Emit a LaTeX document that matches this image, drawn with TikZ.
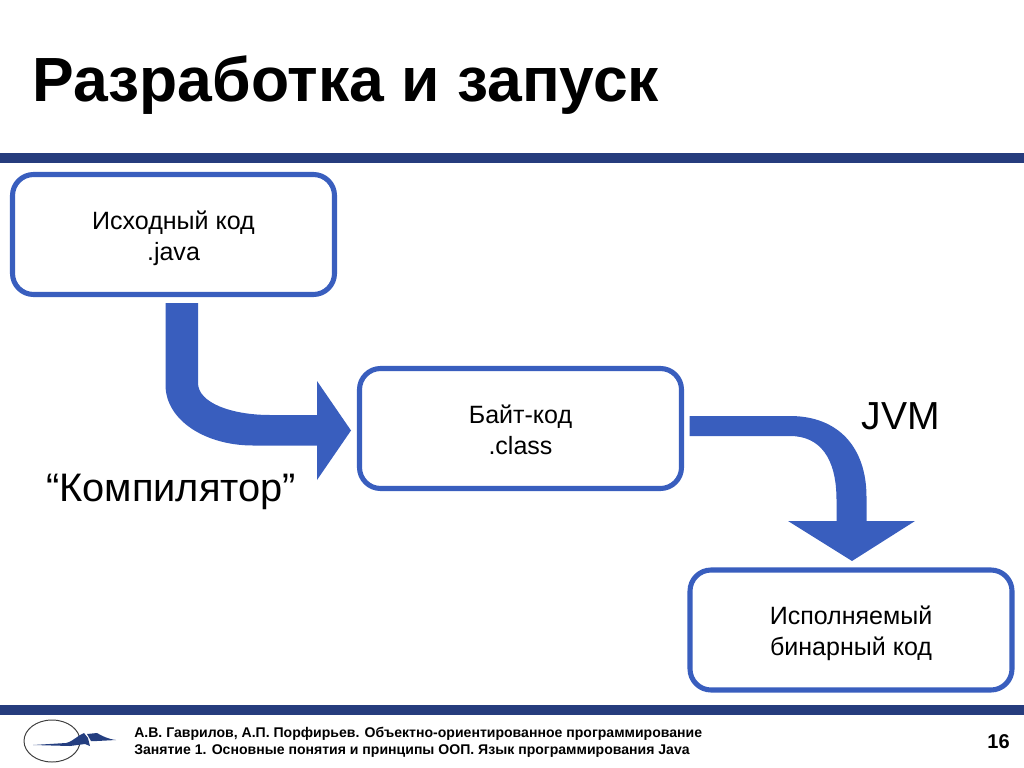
\documentclass[tikz,border=0pt]{standalone}
\usepackage{fontspec}
\setmainfont{Liberation Sans}
\usetikzlibrary{calc}
\definecolor{myblue}{RGB}{57, 94, 190}
\definecolor{mybar}{RGB}{38, 60, 125}
\definecolor{mylogo}{RGB}{36, 62, 128}
\newcommand{\toppad}[1]{\rule{0pt}{#1pt}}
\tikzset{
	codebox/.style = {draw = myblue, line width = 3.6pt, rounded corners = 15pt, fill = white, minimum width = 322*0.025cm, minimum height = 120*0.025cm, inner sep = 0, align = center, font = \fontsize{17.8}{22}\selectfont},
	bigflow/.style = {fill = myblue},
	hbar/.style = {fill = mybar}
}
\begin{document}
\begin{tikzpicture}[x = 0.025cm, y = -0.025cm]
\useasboundingbox (0, 0) rectangle (1024, 768);

\fill[hbar] (0, 153) rectangle (1024, 163);
\fill[hbar] (0, 705) rectangle (1024, 715);

\node[anchor = base west, inner sep = 0, font = \fontsize{44.4}{50}\bfseries\selectfont] (title) at (32, 102) {Разработка и запуск};

\node[codebox] (srcbox) at (173.5, 234.5) {\toppad{18.5}Исходный код \\ .java};
\node[codebox] (bytebox) at (520.5, 428.5) {\toppad{14.5}Байт-код \\ .class};
\node[codebox] (binbox) at (851, 630) {\toppad{17.5}Исполняемый \\ бинарный код};

\coordinate (tailA) at (165.5, 303);
\coordinate (tipA) at (351, 430.5);
\coordinate (tailB) at (689.5, 416);
\coordinate (tipB) at (852, 561);

\fill[bigflow] (tailA) -- (198, 303) -- (198, 383)
.. controls (198, 403) and (232, 415) .. (270, 415)
-- (317, 415) -- (317, 381) -- (tipA) -- (317, 480) -- (317, 445.5) -- (253, 445.5)
.. controls (205, 445.5) and (165.5, 420) .. (165.5, 385) -- cycle;

\fill[bigflow] (tailB) -- (790, 416)
.. controls (838, 416) and (866.5, 447) .. (866.5, 497)
-- (866.5, 521) -- (915, 521) -- (tipB) -- (788, 521) -- (836.5, 521) -- (836.5, 500)
.. controls (836.5, 458) and (820, 436) .. (790, 436) -- (689.5, 436) -- cycle;

\node[font = \fontsize{28.3}{32}\selectfont, inner sep = 0] (compiler) at (171, 491.5) {“Компилятор”};
\node[font = \fontsize{27.8}{32}\selectfont, inner sep = 0] (jvm) at (901, 416) {JVM};

% logo
\draw[black!75, line width = 0.7pt] (52, 741) ellipse (28 and 21);
\fill[mylogo] (33, 745) -- (66, 743) .. controls (74, 741) and (78, 735) .. (84, 733)
-- (88, 738) -- (90, 746) -- (85, 744) -- (70, 746) -- cycle;
\fill[mylogo] (87, 734) -- (97, 733) .. controls (102, 736) and (108, 739) .. (116, 740)
-- (97, 741) -- (91, 741) -- cycle;

\node[anchor = base west, inner sep = 0, font = \fontsize{10}{12}\bfseries\selectfont] (footera) at (134, 737) {А.В. Гаврилов, А.П. Порфирьев. Объектно-ориентированное программирование};
\node[anchor = base west, inner sep = 0, font = \fontsize{10}{12}\bfseries\selectfont] (footerb) at (134, 754) {Занятие 1. Основные понятия и принципы ООП. Язык программирования Java};
\node[font = \fontsize{14.2}{16}\bfseries\selectfont, inner sep = 0] (pagenum) at (998.5, 742) {16};
\end{tikzpicture}
\end{document}
